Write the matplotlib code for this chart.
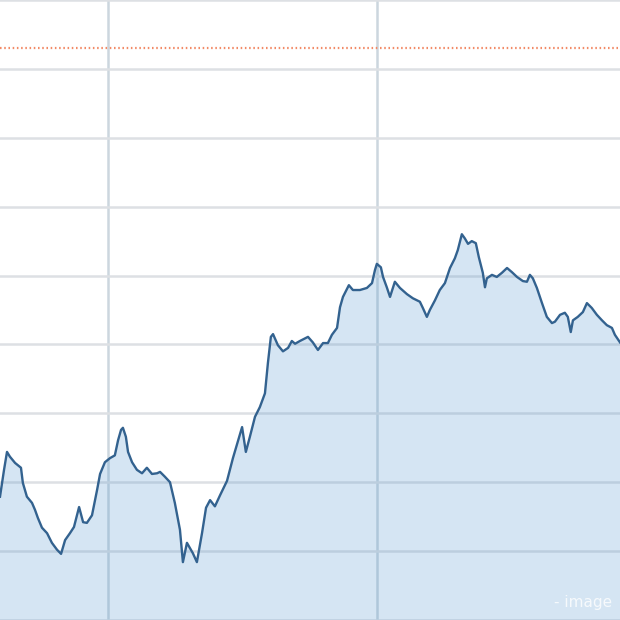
import matplotlib.pyplot as plt

# Price history (day index, closing price)
days = [0, 1.5, 2.6, 3.7, 5.6, 7.8, 8.5, 10.0, 11.9, 13.0, 14.1, 15.6, 17.5, 19.3, 21.2, 22.7,
        24.2, 26.0, 27.5, 29.4, 30.9, 32.3, 34.2, 36.1, 37.2, 39.0, 40.9, 42.7, 43.9, 45.0,
        45.7, 46.8, 47.6, 49.1, 50.9, 52.8, 54.6, 56.5, 58.4, 59.5, 61.3, 63.2, 65.0, 66.9,
        68.0, 69.5, 71.7, 73.2, 75.1, 76.6, 78.1, 79.9, 81.8, 84.4, 86.6, 90.0, 91.4, 92.9,
        94.8, 96.6, 98.5, 99.6, 100.7, 101.5, 103.3, 105.2, 107.1, 108.5, 109.7, 111.5,
        114.5, 116.3, 118.2, 120.1, 121.9, 123.4, 125.3, 126.4, 127.5, 129.7, 131.2, 133.8,
        136.4, 138.3, 139.4, 140.1, 141.6, 142.4, 143.8, 145.0, 146.8, 148.7, 151.3, 153.5,
        156.1, 157.2, 158.7, 159.8, 161.7, 163.5, 165.4, 167.3, 169.1, 170.2, 171.7, 172.8,
        174.0, 175.4, 176.9, 178.0, 179.5, 180.3, 181.0, 182.9, 184.7, 186.6, 188.5, 190.3,
        192.2, 194.4, 195.9, 197.0, 198.1, 199.6, 201.5, 203.3, 205.2, 206.3, 208.2, 210.0,
        211.1, 212.2, 213.0, 214.8, 216.7, 218.2, 220.0, 221.9, 223.8, 225.6, 227.5, 228.6,
        230.5]
prices = [117.9, 121.8, 124.4, 123.7, 122.8, 122.1, 119.9, 117.9, 117.0, 116.0, 114.8, 113.4,
          112.6, 111.2, 110.2, 109.6, 111.6, 112.6, 113.5, 116.4, 114.2, 114.1, 115.2, 118.9,
          121.2, 122.9, 123.5, 123.9, 126.1, 127.6, 127.9, 126.6, 124.4, 122.9, 121.8, 121.3,
          122.1, 121.2, 121.3, 121.5, 120.8, 120.0, 117.0, 113.1, 108.4, 111.2, 109.7, 108.4,
          112.6, 116.3, 117.4, 116.5, 118.1, 120.2, 123.5, 128.0, 124.4, 126.6, 129.5, 130.9,
          132.9, 137.3, 141.1, 141.5, 139.9, 139.0, 139.5, 140.5, 140.1, 140.5, 141.1, 140.3,
          139.2, 140.2, 140.2, 141.4, 142.4, 145.4, 146.9, 148.6, 147.9, 147.9, 148.2, 148.9,
          150.8, 151.7, 151.2, 149.8, 148.3, 146.9, 149.1, 148.2, 147.3, 146.7, 146.2, 145.3,
          144.0, 145.0, 146.4, 147.9, 148.9, 151.1, 152.5, 153.7, 156.0, 155.4, 154.6, 155.0,
          154.7, 152.7, 150.4, 148.3, 149.6, 150.1, 149.8, 150.4, 151.1, 150.5, 149.8, 149.2,
          149.1, 150.1, 149.6, 148.2, 146.0, 144.0, 143.1, 143.3, 144.3, 144.6, 144.0, 141.8,
          143.5, 144.0, 144.7, 146.0, 145.3, 144.3, 143.5, 142.8, 142.4, 141.4, 140.3]
reference_level = 183.0
watermark = "- image"

fig = plt.figure(figsize=(6.2, 6.2), dpi=100)
ax = fig.add_axes([0, 0, 1, 1])

ax.fill_between(days, prices, 100, color='#5b9bd0', alpha=0.25, lw=0, zorder=2)
ax.plot(days, prices, color='#33628f', lw=1.7, zorder=3, solid_joinstyle='round')
ax.axhline(reference_level, color='#f28a66', lw=1.6, ls=(0, (0.7, 1.2)), zorder=3)

ax.set_xlim(0, 230.5)
ax.set_ylim(100, 190)
ax.set_xticks([40, 140])
ax.set_yticks(range(100, 191, 10))
ax.grid(True, axis='y', color='#dde0e4', lw=1.8, zorder=1)
ax.grid(True, axis='x', color='#ccd6de', lw=1.8, zorder=1)
ax.set_axisbelow(True)
ax.tick_params(length=0, labelleft=False, labelbottom=False)
for s in ax.spines.values():
    s.set_visible(False)

ax.text(0.988, 0.021, watermark, transform=ax.transAxes, ha='right', va='baseline',
        fontsize=11, color='white', alpha=0.8, zorder=4)

fig.savefig('out.png', dpi=100)
